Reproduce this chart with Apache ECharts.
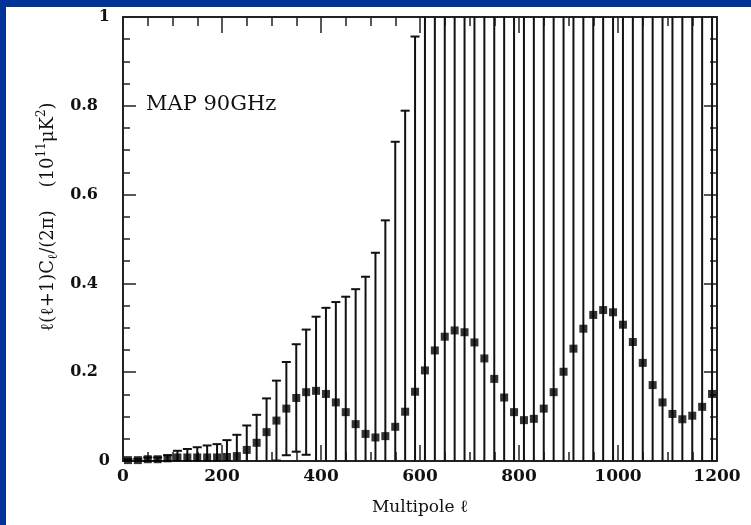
<!DOCTYPE html>
<html><head><meta charset="utf-8">
<script src="https://cdn.jsdelivr.net/npm/echarts@6/dist/echarts.min.js"></script>
<style>html,body{margin:0;padding:0;background:#fff}#c{width:751px;height:525px}</style>
</head><body><div id="c"></div>
<script>
// Multipole l (bin centres)
const ell = [10,30,50,70,90,110,130,150,170,190,
             210,230,250,270,290,310,330,350,370,390,
             410,430,450,470,490,510,530,550,570,590,
             610,630,650,670,690,710,730,750,770,790,
             810,830,850,870,890,910,930,950,970,990,
             1010,1030,1050,1070,1090,1110,1130,1150,1170,1190];
// l(l+1)C_l/(2pi) in 1e11 uK^2
const power = [0.002,0.002,0.004,0.004,0.006,0.008,0.008,0.008,0.008,0.008,
               0.009,0.011,0.025,0.041,0.065,0.091,0.118,0.142,0.155,0.158,
               0.151,0.132,0.110,0.083,0.061,0.053,0.056,0.077,0.111,0.156,
               0.204,0.249,0.280,0.294,0.290,0.267,0.231,0.185,0.143,0.110,
               0.092,0.095,0.118,0.155,0.201,0.253,0.298,0.329,0.340,0.335,
               0.307,0.268,0.221,0.171,0.132,0.106,0.094,0.102,0.122,0.151];
// symmetric 1-sigma error half-widths
const sigma = [0.002,0.003,0.004,0.004,0.007,0.015,0.019,0.023,0.027,0.030,
               0.038,0.048,0.055,0.063,0.076,0.090,0.105,0.121,0.141,0.167,
               0.194,0.226,0.260,0.304,0.354,0.416,0.486,0.642,0.678,0.800,
               0.98,1.02,1.05,1.10,1.15,1.20,1.25,1.30,1.35,1.40,
               1.45,1.50,1.55,1.60,1.65,1.70,1.75,1.80,1.85,1.90,
               1.95,2.00,2.05,2.10,2.15,2.20,2.25,2.30,2.35,2.40];
const xTicks = [0,200,400,600,800,1000,1200];
const yTicks = [0,0.2,0.4,0.6,0.8,1];
const mapLabel = 'MAP 90GHz';
const xTitle = 'Multipole ℓ';

const FONT = 'DejaVu Serif';
const INK = '#111';
const chart = echarts.init(document.getElementById('c'), null, {renderer:'canvas'});

const pts = ell.map((l,i)=>[l, power[i]]);
const errs = ell.map((l,i)=>[l, power[i], sigma[i]]);

function axisBase(extra){
  return Object.assign({
    type:'value',
    splitLine:{show:false},
    axisLine:{show:true, onZero:false, lineStyle:{color:'#222', width:2}},
  }, extra);
}

const option = {
  backgroundColor:'#fff',
  animation:false,
  grid:{left:123, right:34, top:17, bottom:64, containLabel:false},
  xAxis:[
    axisBase({position:'bottom', min:xTicks[0], max:xTicks[xTicks.length-1], interval:xTicks[1]-xTicks[0],
      name:xTitle, nameLocation:'middle', nameGap:38,
      nameTextStyle:{fontFamily:FONT, fontSize:17, color:INK},
      axisTick:{show:true, inside:true, length:16, lineStyle:{color:'#222', width:1.5}},
      minorTick:{show:true, splitNumber:4, length:9, lineStyle:{color:'#222', width:1.5}},
      axisLabel:{show:true, margin:7, fontFamily:FONT, fontSize:17, fontWeight:'bold', color:INK,
        formatter:function(v){ return String(v); }}}),
    axisBase({position:'top', min:xTicks[0], max:xTicks[xTicks.length-1], interval:xTicks[1]-xTicks[0],
      axisTick:{show:true, inside:true, length:16, lineStyle:{color:'#222', width:1.5}},
      minorTick:{show:true, splitNumber:4, length:9, lineStyle:{color:'#222', width:1.5}},
      axisLabel:{show:false}})
  ],
  yAxis:[
    axisBase({position:'left', min:yTicks[0], max:yTicks[yTicks.length-1], interval:yTicks[1]-yTicks[0],
      axisTick:{show:true, inside:true, length:13, lineStyle:{color:'#222', width:1.5}},
      minorTick:{show:true, splitNumber:4, length:7, lineStyle:{color:'#222', width:1.5}},
      axisLabel:{show:true, margin:13, fontFamily:FONT, fontSize:16, fontWeight:'bold', color:INK,
        formatter:function(v){
          if (Math.abs(v) < 1e-9) return '{i|0}';
          if (Math.abs(v-1) < 1e-9) return '{i|1}';
          return '{d|' + v.toFixed(1) + '}';
        },
        rich:{
          i:{fontFamily:FONT, fontSize:16, fontWeight:'bold', color:INK},
          d:{fontFamily:FONT, fontSize:16, fontWeight:'bold', color:INK, padding:[0,12,0,0]}
        }}}),
    axisBase({position:'right', min:yTicks[0], max:yTicks[yTicks.length-1], interval:yTicks[1]-yTicks[0],
      axisTick:{show:true, inside:true, length:13, lineStyle:{color:'#222', width:1.5}},
      minorTick:{show:true, splitNumber:4, length:7, lineStyle:{color:'#222', width:1.5}},
      axisLabel:{show:false}})
  ],
  graphic:[
    {type:'rect', left:0, top:0, shape:{width:751, height:7}, style:{fill:'#003399'}, z:100},
    {type:'rect', left:0, top:0, shape:{width:6, height:525}, style:{fill:'#003399'}, z:100},
    {type:'text', x:146, y:105, z:50,
      style:{text:mapLabel, fontFamily:FONT, fontSize:21, fill:INK, textAlign:'left', textVerticalAlign:'middle'}},
    {type:'text', x:48, y:217, rotation:Math.PI/2, z:50,
      style:{
        text:'{a|ℓ(ℓ+1)C}{b|ℓ}{a|/(2π)    (10}{c|11}{a|μK}{c|2}{a|)}',
        textAlign:'center', textVerticalAlign:'middle',
        rich:{
          a:{fontFamily:FONT, fontSize:18, fill:INK, lineHeight:24},
          b:{fontFamily:FONT, fontSize:13, fill:INK, verticalAlign:'bottom', lineHeight:24},
          c:{fontFamily:FONT, fontSize:12, fill:INK, verticalAlign:'top', lineHeight:24}
        }
      }}
  ],
  series:[
    {
      type:'custom', xAxisIndex:0, yAxisIndex:0, clip:true, z:2,
      data:errs,
      renderItem:function(params, api){
        const x = api.value(0), y = api.value(1), e = api.value(2);
        const top = api.coord([x, y + e]);
        const bot = api.coord([x, y - e]);
        const w = 4.5;
        const st = {stroke:'#111', lineWidth:2, fill:null};
        return {type:'group', children:[
          {type:'line', shape:{x1:top[0], y1:top[1], x2:bot[0], y2:bot[1]}, style:st},
          {type:'line', shape:{x1:top[0]-w, y1:top[1], x2:top[0]+w, y2:top[1]}, style:st},
          {type:'line', shape:{x1:bot[0]-w, y1:bot[1], x2:bot[0]+w, y2:bot[1]}, style:st}
        ]};
      }
    },
    {
      type:'scatter', xAxisIndex:0, yAxisIndex:0, z:3,
      symbol:'rect', symbolSize:8,
      itemStyle:{color:'#000'},
      data:pts
    }
  ]
};
chart.setOption(option);
</script>
</body></html>
